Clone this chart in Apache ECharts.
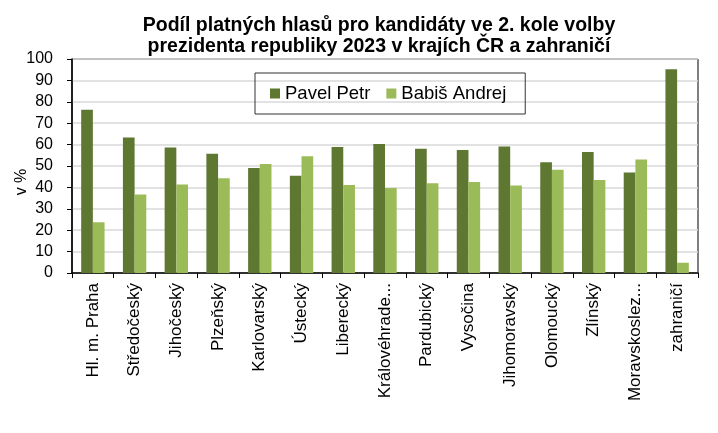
<!DOCTYPE html>
<html>
<head>
<meta charset="utf-8">
<script src="https://cdn.jsdelivr.net/npm/echarts@6/dist/echarts.min.js"></script>
<style>
  html, body { margin: 0; padding: 0; background: #fff; }
  #chart { width: 718px; height: 433px; }
</style>
</head>
<body>
<div id="chart"></div>
<script>
  // kraje + zahraničí
  let kraje = ['Hl. m. Praha', 'Středočeský', 'Jihočeský', 'Plzeňský', 'Karlovarský', 'Ústecký',
    'Liberecký', 'Královéhrade...', 'Pardubický', 'Vysočina', 'Jihomoravský', 'Olomoucký',
    'Zlínský', 'Moravskoslez...', 'zahraničí'];
  let pavel = [76.3, 63.3, 58.6, 55.7, 49.1, 45.5, 58.9, 60.3, 58.1, 57.5, 59.1, 51.8, 56.6, 47.0, 95.2];
  let babis = [23.7, 36.7, 41.4, 44.3, 50.9, 54.5, 41.1, 39.7, 41.9, 42.5, 40.9, 48.2, 43.4, 53.0, 4.8];
  let jmena = ['Pavel Petr', 'Babiš Andrej'];
  let barvy = ['#5e7731', '#9bbb59'];

  let chart = echarts.init(document.getElementById('chart'));
  let option = {
    animation: false,
    textStyle: { fontFamily: 'Liberation Sans, Arial, sans-serif', color: '#000' },
    title: {
      text: 'Podíl platných hlasů pro kandidáty ve 2. kole volby\nprezidenta republiky 2023 v krajích ČR a zahraničí',
      left: 374,
      textAlign: 'center',
      top: 10,
      textStyle: { fontSize: 19.5, fontWeight: 'bold', lineHeight: 21, color: '#000' }
    },
    legend: {
      data: jmena,
      left: 255,
      top: 73,
      orient: 'horizontal',
      itemWidth: 10,
      itemHeight: 10,
      itemGap: 16,
      padding: [11, 19, 11, 15],
      borderColor: '#333',
      borderWidth: 1,
      icon: 'rect',
      textStyle: { fontSize: 18.5, color: '#000' }
    },
    grid: {
      left: 72, right: 20, top: 59, bottom: 160,
      outerBoundsMode: 'none',
      show: true, borderColor: '#000', borderWidth: 1
    },
    xAxis: {
      type: 'category',
      data: kraje,
      axisLine: { lineStyle: { color: '#000', width: 1.5 } },
      axisTick: { show: true, length: 5, lineStyle: { color: '#000' } },
      axisLabel: { rotate: 90, fontSize: 17, margin: 10, color: '#000' }
    },
    yAxis: {
      type: 'value',
      min: 0, max: 100, interval: 10,
      name: 'v %',
      nameLocation: 'middle',
      nameRotate: 90,
      nameGap: 42,
      nameMoveOverlap: false,
      nameTextStyle: { fontSize: 16, color: '#000', padding: [0, 32, 0, 0] },
      axisLine: { show: true, lineStyle: { color: '#000', width: 1.5 } },
      axisTick: { show: true, length: 5, lineStyle: { color: '#000' } },
      axisLabel: { fontSize: 16, margin: 19, color: '#000' },
      splitLine: { lineStyle: { color: '#d9d9d9', width: 1.5 } }
    },
    series: [{
      name: jmena[0],
      type: 'bar',
      data: pavel,
      barGap: '0%',
      barCategoryGap: '44%',
      itemStyle: { color: barvy[0] }
    }, {
      name: jmena[1],
      type: 'bar',
      data: babis,
      itemStyle: { color: barvy[1] }
    }]
  };
  chart.setOption(option, true);
</script>
</body>
</html>
